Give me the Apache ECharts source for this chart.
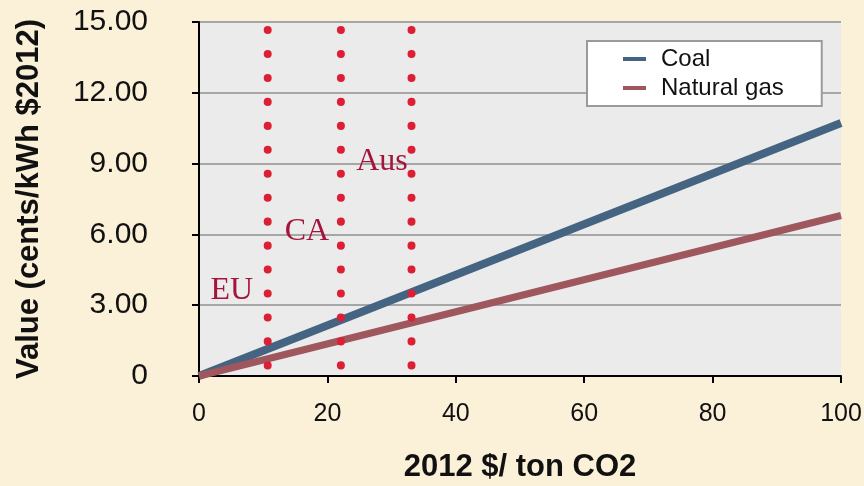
<!DOCTYPE html>
<html>
<head>
<meta charset="utf-8">
<script src="https://cdn.jsdelivr.net/npm/echarts@6/dist/echarts.min.js"></script>
<style>
  html, body { margin: 0; padding: 0; background: #fbf0d8; }
  #chartBox { width: 864px; height: 486px; }
</style>
</head>
<body>
<div id="chartBox"></div>
<script>
// carbon price ($/ton CO2) at the line ends
var priceX = [0, 100]
var coalValue = [0, 10.72]
var gasValue = [0, 6.8]

// regional carbon prices, drawn as dotted verticals
var regionNames = ['EU', 'CA', 'Aus']
var regionPrice = [10.7, 22.1, 33.1]
var dotTop = 14.66
var dotBottom = 0.4
// where each region name sits (x, y in data units)
var regionLabelX = [5.1, 16.8, 28.5]
var regionLabelY = [3.64, 6.1, 9.1]

var yTicks = [0, 3, 6, 9, 12, 15]

var sansFont = '"Liberation Sans", Arial, Helvetica, sans-serif'
var serifFont = '"Liberation Serif", "Times New Roman", serif'

function pairs (xs, ys) {
  return xs.map(function (x, i) { return [x, ys[i]] })
}

var series = [{
  name: 'Coal',
  type: 'line',
  data: pairs(priceX, coalValue),
  symbol: 'none',
  lineStyle: { color: '#456482', width: 8 },
  itemStyle: { color: '#456482' },
  z: 3
}, {
  name: 'Natural gas',
  type: 'line',
  data: pairs(priceX, gasValue),
  symbol: 'none',
  lineStyle: { color: '#9e575c', width: 7 },
  itemStyle: { color: '#9e575c' },
  z: 3
}]

regionNames.forEach(function (name, i) {
  series.push({
    name: name,
    type: 'line',
    data: [[regionPrice[i], dotTop], [regionPrice[i], dotBottom]],
    symbol: 'none',
    silent: true,
    z: 4,
    lineStyle: { color: '#dc1f35', width: 8, type: [0.1, 23.85], cap: 'round' },
    markPoint: {
      symbol: 'circle',
      symbolSize: 0,
      silent: true,
      label: {
        show: true,
        position: 'inside',
        formatter: name,
        color: '#a5143a',
        fontFamily: serifFont,
        fontSize: 32
      },
      data: [{ coord: [regionLabelX[i], regionLabelY[i]] }]
    }
  })
})

var myChart = echarts.init(document.getElementById('chartBox'))
myChart.setOption({
  backgroundColor: '#fbf0d8',
  animation: false,
  grid: {
    left: 199,
    right: 23,
    top: 22,
    bottom: 110,
    outerBoundsMode: 'none',
    containLabel: false,
    show: true,
    backgroundColor: '#ebebeb',
    borderWidth: 0
  },
  legend: {
    data: ['Coal', 'Natural gas'],
    orient: 'vertical',
    left: 587,
    top: 41,
    backgroundColor: '#ffffff',
    borderColor: '#9a9a9a',
    borderWidth: 2,
    borderRadius: 0,
    padding: [6, 38, 6, 36],
    itemGap: 5,
    icon: 'rect',
    itemWidth: 23,
    itemHeight: 4,
    textStyle: { fontFamily: sansFont, fontSize: 24, color: '#111', padding: [0, 0, 0, 10] }
  },
  xAxis: {
    type: 'value',
    min: 0,
    max: 100,
    interval: 20,
    name: '2012 $/ ton CO2',
    nameLocation: 'middle',
    nameGap: 76,
    nameTextStyle: { fontFamily: sansFont, fontSize: 31, fontWeight: 'bold', color: '#111' },
    axisLine: { show: true, lineStyle: { color: '#000', width: 2 } },
    axisTick: { show: true, length: 7, lineStyle: { color: '#000', width: 2 } },
    axisLabel: { fontFamily: sansFont, fontSize: 25, color: '#111', margin: 26 },
    splitLine: { show: false }
  },
  yAxis: {
    type: 'value',
    min: yTicks[0],
    max: yTicks[yTicks.length - 1],
    interval: 3,
    name: 'Value (cents/kWh $2012)',
    nameLocation: 'middle',
    nameGap: 154,
    nameTextStyle: { fontFamily: sansFont, fontSize: 31, fontWeight: 'bold', color: '#111' },
    axisLine: { show: true, lineStyle: { color: '#000', width: 2 } },
    axisTick: { show: true, length: 7, lineStyle: { color: '#000', width: 2 } },
    axisLabel: {
      fontFamily: sansFont,
      fontSize: 30,
      color: '#111',
      margin: 51,
      formatter: function (v) { return v === 0 ? '0' : v.toFixed(2) }
    },
    splitLine: { show: true, lineStyle: { color: '#a6a6a6', width: 2 } }
  },
  series: series
})
</script>
</body>
</html>
